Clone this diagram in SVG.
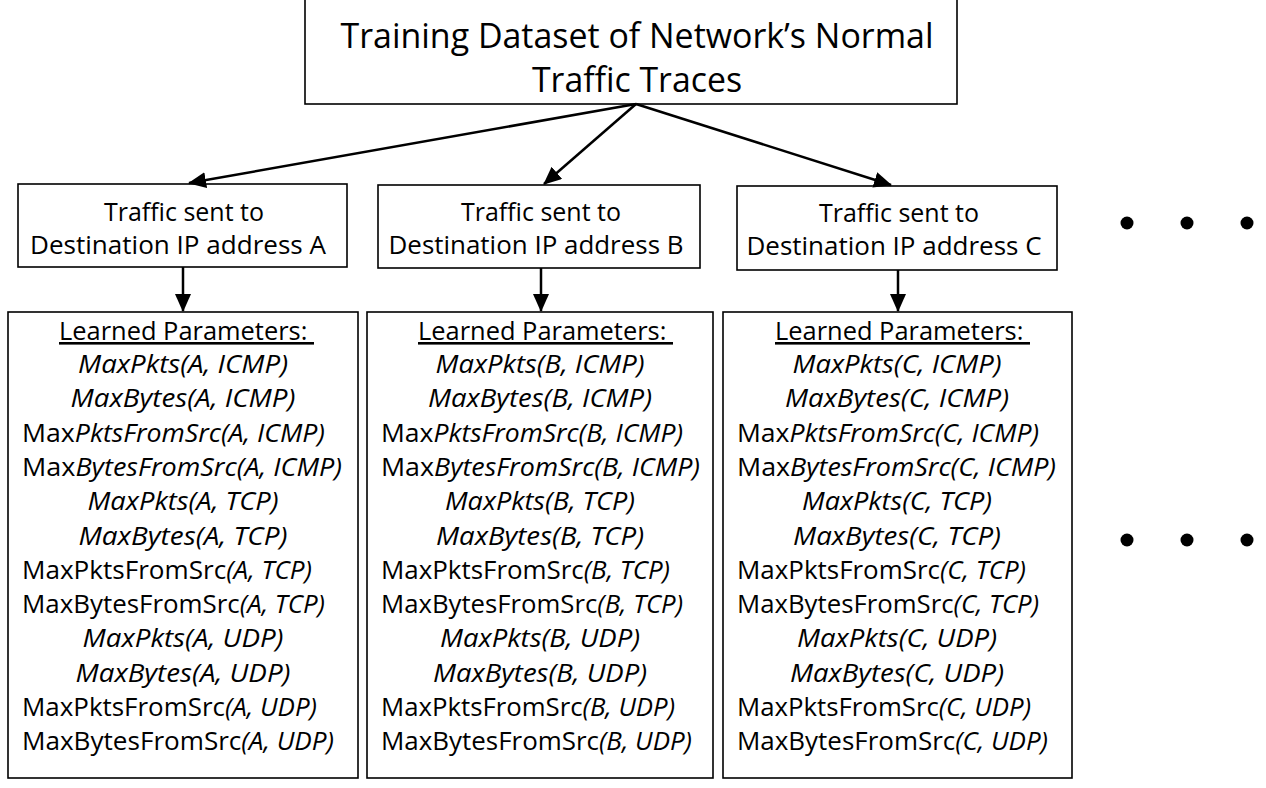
<svg xmlns="http://www.w3.org/2000/svg" width="1266" height="788" viewBox="0 0 1266 788">
  <style>
    .box { fill: #ffffff; stroke: #000000; stroke-width: 1.6; }
    .txt { font-family: "Open Sans", "Liberation Sans", sans-serif; fill: #000000; text-anchor: middle; }
    .left { text-anchor: start; }
    .title { font-size: 34.5px; }
    .mid { font-size: 26px; }
    .par { font-size: 26px; }
    .it { font-style: italic; }
    .link { stroke: #000000; stroke-width: 2.5; fill: none; }
    .dot { fill: #000000; }
  </style>
  <defs>
    <marker id="arrow" markerUnits="userSpaceOnUse" markerWidth="18" markerHeight="16" viewBox="0 0 18 16" refX="17" refY="8" orient="auto">
      <path d="M0,0 L18,8 L0,16 Z" fill="#000000"/>
    </marker>
  </defs>
  <rect width="1266" height="788" fill="#ffffff"/>

  <!-- root node -->
  <g id="dataset">
    <rect class="box" x="305" y="-2" width="652" height="106"/>
    <text class="txt title" x="637" y="48" textLength="593" lengthAdjust="spacingAndGlyphs">Training Dataset of Network’s Normal</text>
    <text class="txt title" x="637" y="92" textLength="210" lengthAdjust="spacingAndGlyphs">Traffic Traces</text>
  </g>

  <!-- per-destination traffic nodes -->
  <g id="traffic-a">
    <rect class="box" x="18" y="184" width="329" height="83"/>
    <text class="txt mid" x="184" y="221" textLength="160" lengthAdjust="spacingAndGlyphs">Traffic sent to</text>
    <text class="txt mid" x="178" y="254" textLength="296" lengthAdjust="spacingAndGlyphs">Destination IP address A</text>
  </g>
  <g id="traffic-b">
    <rect class="box" x="378" y="185" width="322" height="83"/>
    <text class="txt mid" x="541" y="221" textLength="160" lengthAdjust="spacingAndGlyphs">Traffic sent to</text>
    <text class="txt mid" x="536" y="254" textLength="295" lengthAdjust="spacingAndGlyphs">Destination IP address B</text>
  </g>
  <g id="traffic-c">
    <rect class="box" x="737" y="186" width="320" height="84"/>
    <text class="txt mid" x="899" y="222" textLength="160" lengthAdjust="spacingAndGlyphs">Traffic sent to</text>
    <text class="txt mid" x="894" y="255" textLength="295" lengthAdjust="spacingAndGlyphs">Destination IP address C</text>
  </g>

  <!-- learned parameter nodes -->
  <g id="params-a">
    <rect class="box" x="8" y="312" width="350" height="466"/>
    <text class="txt par left" x="59" y="340" text-decoration="underline" textLength="255" lengthAdjust="spacingAndGlyphs">Learned Parameters:&#160;</text>
    <text class="txt par it" x="183" y="373" textLength="210" lengthAdjust="spacingAndGlyphs">MaxPkts(A, ICMP)</text>
    <text class="txt par it" x="183" y="407" textLength="225" lengthAdjust="spacingAndGlyphs">MaxBytes(A, ICMP)</text>
    <text class="txt par left" x="22" y="442" textLength="303" lengthAdjust="spacingAndGlyphs">Max<tspan class="it">PktsFromSrc(A, ICMP)</tspan></text>
    <text class="txt par left" x="22" y="476" textLength="320" lengthAdjust="spacingAndGlyphs">Max<tspan class="it">BytesFromSrc(A, ICMP)</tspan></text>
    <text class="txt par it" x="183" y="510" textLength="191" lengthAdjust="spacingAndGlyphs">MaxPkts(A, TCP)</text>
    <text class="txt par it" x="183" y="545" textLength="209" lengthAdjust="spacingAndGlyphs">MaxBytes(A, TCP)</text>
    <text class="txt par left" x="22" y="579" textLength="290" lengthAdjust="spacingAndGlyphs">MaxPktsFromSrc<tspan class="it">(A, TCP)</tspan></text>
    <text class="txt par left" x="22" y="613" textLength="303" lengthAdjust="spacingAndGlyphs">MaxBytesFromSrc<tspan class="it">(A, TCP)</tspan></text>
    <text class="txt par it" x="183" y="647" textLength="201" lengthAdjust="spacingAndGlyphs">MaxPkts(A, UDP)</text>
    <text class="txt par it" x="183" y="682" textLength="215" lengthAdjust="spacingAndGlyphs">MaxBytes(A, UDP)</text>
    <text class="txt par left" x="22" y="716" textLength="295" lengthAdjust="spacingAndGlyphs">MaxPktsFromSrc<tspan class="it">(A, UDP)</tspan></text>
    <text class="txt par left" x="22" y="750" textLength="312" lengthAdjust="spacingAndGlyphs">MaxBytesFromSrc<tspan class="it">(A, UDP)</tspan></text>
  </g>
  <g id="params-b">
    <rect class="box" x="367" y="312" width="346" height="466"/>
    <text class="txt par left" x="418" y="340" text-decoration="underline" textLength="255" lengthAdjust="spacingAndGlyphs">Learned Parameters:&#160;</text>
    <text class="txt par it" x="540" y="373" textLength="209" lengthAdjust="spacingAndGlyphs">MaxPkts(B, ICMP)</text>
    <text class="txt par it" x="540" y="407" textLength="224" lengthAdjust="spacingAndGlyphs">MaxBytes(B, ICMP)</text>
    <text class="txt par left" x="381" y="442" textLength="302" lengthAdjust="spacingAndGlyphs">Max<tspan class="it">PktsFromSrc(B, ICMP)</tspan></text>
    <text class="txt par left" x="381" y="476" textLength="319" lengthAdjust="spacingAndGlyphs">Max<tspan class="it">BytesFromSrc(B, ICMP)</tspan></text>
    <text class="txt par it" x="540" y="510" textLength="190" lengthAdjust="spacingAndGlyphs">MaxPkts(B, TCP)</text>
    <text class="txt par it" x="540" y="545" textLength="208" lengthAdjust="spacingAndGlyphs">MaxBytes(B, TCP)</text>
    <text class="txt par left" x="381" y="579" textLength="289" lengthAdjust="spacingAndGlyphs">MaxPktsFromSrc<tspan class="it">(B, TCP)</tspan></text>
    <text class="txt par left" x="381" y="613" textLength="302" lengthAdjust="spacingAndGlyphs">MaxBytesFromSrc<tspan class="it">(B, TCP)</tspan></text>
    <text class="txt par it" x="540" y="647" textLength="200" lengthAdjust="spacingAndGlyphs">MaxPkts(B, UDP)</text>
    <text class="txt par it" x="540" y="682" textLength="214" lengthAdjust="spacingAndGlyphs">MaxBytes(B, UDP)</text>
    <text class="txt par left" x="381" y="716" textLength="294" lengthAdjust="spacingAndGlyphs">MaxPktsFromSrc<tspan class="it">(B, UDP)</tspan></text>
    <text class="txt par left" x="381" y="750" textLength="311" lengthAdjust="spacingAndGlyphs">MaxBytesFromSrc<tspan class="it">(B, UDP)</tspan></text>
  </g>
  <g id="params-c">
    <rect class="box" x="723" y="312" width="349" height="466"/>
    <text class="txt par left" x="775" y="340" text-decoration="underline" textLength="255" lengthAdjust="spacingAndGlyphs">Learned Parameters:&#160;</text>
    <text class="txt par it" x="897" y="373" textLength="209" lengthAdjust="spacingAndGlyphs">MaxPkts(C, ICMP)</text>
    <text class="txt par it" x="897" y="407" textLength="224" lengthAdjust="spacingAndGlyphs">MaxBytes(C, ICMP)</text>
    <text class="txt par left" x="737" y="442" textLength="302" lengthAdjust="spacingAndGlyphs">Max<tspan class="it">PktsFromSrc(C, ICMP)</tspan></text>
    <text class="txt par left" x="737" y="476" textLength="319" lengthAdjust="spacingAndGlyphs">Max<tspan class="it">BytesFromSrc(C, ICMP)</tspan></text>
    <text class="txt par it" x="897" y="510" textLength="190" lengthAdjust="spacingAndGlyphs">MaxPkts(C, TCP)</text>
    <text class="txt par it" x="897" y="545" textLength="208" lengthAdjust="spacingAndGlyphs">MaxBytes(C, TCP)</text>
    <text class="txt par left" x="737" y="579" textLength="289" lengthAdjust="spacingAndGlyphs">MaxPktsFromSrc<tspan class="it">(C, TCP)</tspan></text>
    <text class="txt par left" x="737" y="613" textLength="302" lengthAdjust="spacingAndGlyphs">MaxBytesFromSrc<tspan class="it">(C, TCP)</tspan></text>
    <text class="txt par it" x="897" y="647" textLength="200" lengthAdjust="spacingAndGlyphs">MaxPkts(C, UDP)</text>
    <text class="txt par it" x="897" y="682" textLength="214" lengthAdjust="spacingAndGlyphs">MaxBytes(C, UDP)</text>
    <text class="txt par left" x="737" y="716" textLength="294" lengthAdjust="spacingAndGlyphs">MaxPktsFromSrc<tspan class="it">(C, UDP)</tspan></text>
    <text class="txt par left" x="737" y="750" textLength="311" lengthAdjust="spacingAndGlyphs">MaxBytesFromSrc<tspan class="it">(C, UDP)</tspan></text>
  </g>

  <!-- continuation marks -->
  <g id="more-traffic">
    <circle class="dot" cx="1127" cy="223" r="6.5"/>
    <circle class="dot" cx="1187" cy="223" r="6.5"/>
    <circle class="dot" cx="1247" cy="223" r="6.5"/>
  </g>
  <g id="more-params">
    <circle class="dot" cx="1127" cy="540" r="6.5"/>
    <circle class="dot" cx="1187" cy="540" r="6.5"/>
    <circle class="dot" cx="1247" cy="540" r="6.5"/>
  </g>

  <!-- connectors -->
  <g id="connectors">
    <line class="link" x1="636" y1="104" x2="189" y2="183" marker-end="url(#arrow)"/>
    <line class="link" x1="636" y1="104" x2="544" y2="184" marker-end="url(#arrow)"/>
    <line class="link" x1="636" y1="104" x2="891" y2="185" marker-end="url(#arrow)"/>
    <line class="link" x1="183" y1="267" x2="183" y2="311" marker-end="url(#arrow)"/>
    <line class="link" x1="541" y1="268" x2="541" y2="311" marker-end="url(#arrow)"/>
    <line class="link" x1="898" y1="270" x2="898" y2="311" marker-end="url(#arrow)"/>
  </g>
</svg>
